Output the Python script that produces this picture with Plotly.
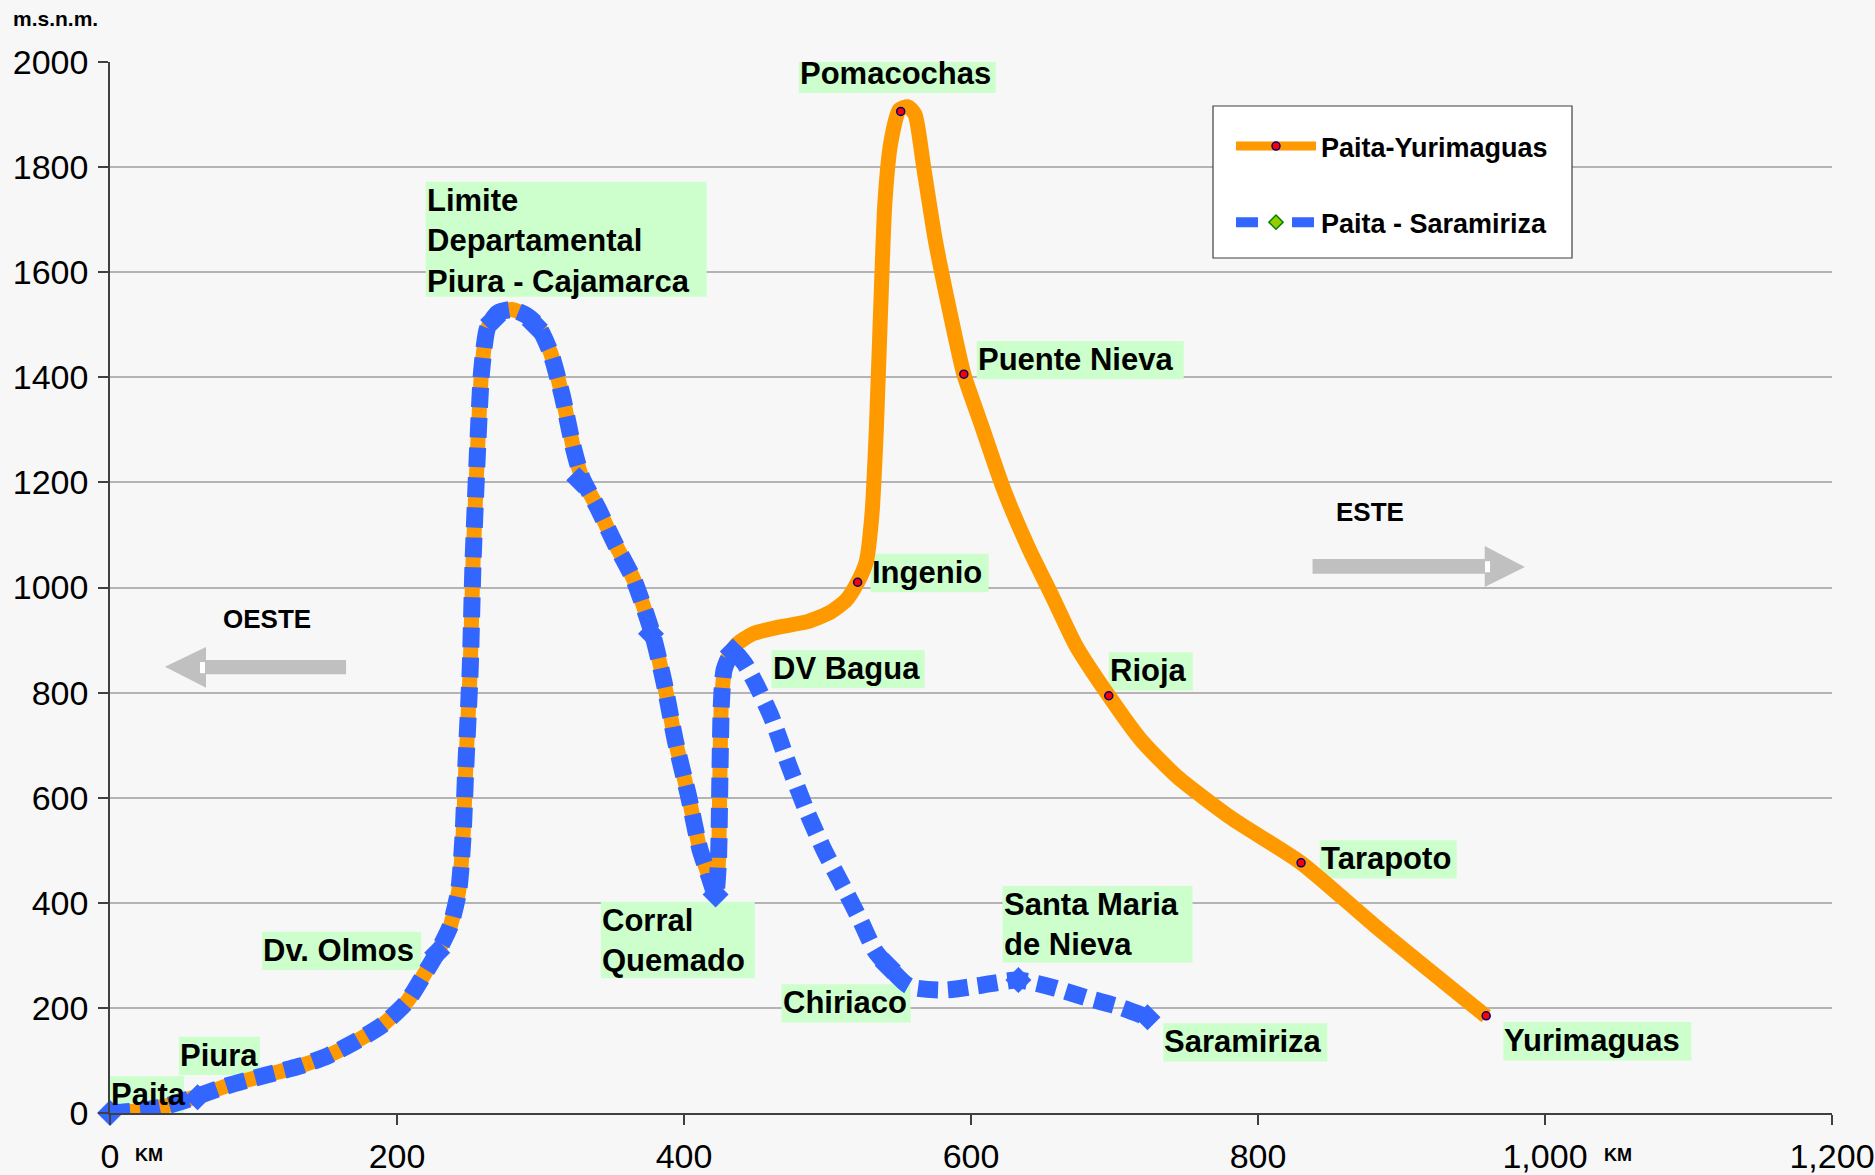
import plotly.graph_objects as go

# ---------------- data ----------------
# Paita - Yurimaguas profile (km, m.s.n.m.)
py_km = [0, 23, 40, 61, 82, 107, 132, 152, 173, 190, 207, 219, 228, 237, 243, 246, 248, 251, 253, 256,
         259, 263, 270, 280, 290, 298, 307, 315, 323, 329, 340, 352, 365, 378, 386, 394, 403, 411, 418,
         422, 424, 425, 426, 429, 436, 448, 465, 486, 502, 513, 521, 527, 531, 534, 537, 540, 544, 550,
         556, 561, 567, 575, 586, 595, 607, 623, 640, 657, 673, 696, 719, 744, 782, 830, 882, 959]
py_m = [0, 5, 14, 32, 52, 71, 89, 109, 139, 168, 212, 264, 305, 355, 423, 526, 662, 844, 1049, 1254,
        1413, 1493, 1522, 1529, 1518, 1499, 1447, 1367, 1265, 1208, 1151, 1083, 1015, 912, 821, 708, 605, 503, 446,
        416, 480, 639, 776, 856, 890, 912, 924, 935, 953, 976, 1010, 1049, 1140, 1299, 1527, 1732, 1845, 1909,
        1915, 1900, 1800, 1663, 1515, 1406, 1311, 1185, 1076, 981, 890, 794, 708, 639, 560, 476, 355, 184]

# Paita - Saramiriza profile
ps_km = [0, 23, 40, 61, 82, 107, 132, 152, 173, 190, 207, 219, 228, 237, 243, 246, 248, 251, 253, 256,
         259, 263, 270, 280, 290, 298, 307, 315, 323, 329, 340, 352, 365, 378, 386, 394, 403, 411, 418,
         422, 424, 425, 426, 428, 434, 442, 450, 461, 473, 486, 498, 511, 523, 533, 542, 557, 582, 607,
         633, 657, 682, 702, 723]
ps_m = [0, 5, 14, 32, 52, 71, 89, 109, 139, 168, 212, 264, 305, 355, 423, 526, 662, 844, 1049, 1254,
        1413, 1493, 1522, 1529, 1518, 1499, 1447, 1367, 1265, 1208, 1151, 1083, 1015, 912, 821, 708, 605, 503, 446,
        416, 480, 639, 776, 844, 878, 856, 817, 753, 662, 571, 498, 430, 366, 309, 280, 241, 234, 243,
        253, 239, 218, 203, 182]

# data points of the Saramiriza series
ps_pts_km = [0, 61, 228, 267, 296, 327, 377, 422, 434, 542, 633, 723]
ps_pts_m = [0, 30, 305, 1509, 1500, 1204, 912, 416, 878, 280, 253, 182]

# data points of the Yurimaguas series (visible part)
py_pts_km = [521, 551, 595, 696, 830, 959]
py_pts_m = [1010, 1906, 1406, 794, 476, 185]

# place labels (top-left corner of each label, km / m)
label_text = ["Paita", "Piura", "Dv. Olmos", "Limite<br>Departamental<br>Piura - Cajamarca",
              "Corral<br>Quemado", "DV Bagua", "Chiriaco", "Ingenio", "Pomacochas", "Puente Nieva",
              "Rioja", "Tarapoto", "Santa Maria<br>de Nieva", "Saramiriza", "Yurimaguas"]
label_km = [0, 48, 106, 220, 342, 461, 468, 530, 480, 604, 696, 843, 622, 734, 971]
label_m = [70, 145, 345, 1772, 402, 881, 245, 1064, 2014, 1469, 877, 519, 432, 171, 173]

x_ticks = [0, 200, 400, 600, 800, 1000, 1200]
x_tick_text = ["0", "200", "400", "600", "800", "1,000", "1,200"]
y_ticks = [0, 200, 400, 600, 800, 1000, 1200, 1400, 1600, 1800, 2000]

series_names = ["Paita-Yurimaguas", "Paita - Saramiriza"]

# ---------------- styles ----------------
FONT = "Liberation Sans, Arial, sans-serif"
ORANGE = "#ff9900"
BLUE = "#3366ff"
BG = "#f7f7f7"
GRAY_ARROW = "#c0c0c0"
LABEL_BG = "#ccffcc"
W, H = 1875, 1175
L, R, T, B = 110, 43, 62, 62
PW, PH = W - L - R, H - T - B
X_RANGE = [0, 1200]
Y_RANGE = [0, 2000]
KM_PER_PX = (X_RANGE[1] - X_RANGE[0]) / PW
M_PER_PX = (Y_RANGE[1] - Y_RANGE[0]) / PH
# label box widths in px and line height in px
label_box_w = [74, 81, 159, 281, 154, 153, 129, 118, 197, 207, 84, 137, 190, 164, 188]
LINE_H = 38.3


def px_x(px):
    return (px - L) / PW


def px_y(py):
    return (H - B - py) / PH


fig = go.Figure()

# orange line
fig.add_trace(go.Scatter(x=py_km, y=py_m, mode="lines", showlegend=False,
                         line=dict(color=ORANGE, width=15, shape="spline", smoothing=0.6),
                         hoverinfo="skip"))
fig.add_trace(go.Scatter(x=py_pts_km, y=py_pts_m, mode="markers", showlegend=False,
                         marker=dict(symbol="circle", size=8, color="#ff0000",
                                     line=dict(color="#000080", width=1.5))))
# blue dotted line
fig.add_trace(go.Scatter(x=ps_km, y=ps_m, mode="lines", showlegend=False,
                         line=dict(color=BLUE, width=17, dash="20px,10px", shape="spline", smoothing=0.6),
                         hoverinfo="skip"))
fig.add_trace(go.Scatter(x=ps_pts_km, y=ps_pts_m, mode="markers", showlegend=False, cliponaxis=False,
                         marker=dict(symbol="diamond", size=20, color=BLUE)))

# legend entries
fig.add_trace(go.Scatter(x=[None], y=[None], mode="lines+markers", name=series_names[0],
                         legendgroup="a",
                         line=dict(color=ORANGE, width=9),
                         marker=dict(symbol="circle", size=8, color="#ff0000",
                                     line=dict(color="#000080", width=1.5))))
fig.add_trace(go.Scatter(x=[None], y=[None], mode="lines+markers", name=series_names[1],
                         legendgroup="b",
                         line=dict(color=BLUE, width=14, dash="22px,34px,22px"),
                         marker=dict(symbol="diamond", size=11, color="#99cc00",
                                     line=dict(color="#008000", width=1.5))))

# legend box
fig.add_shape(type="rect", xref="paper", yref="paper",
              x0=px_x(1213), x1=px_x(1572), y0=px_y(258), y1=px_y(106),
              fillcolor="#ffffff", line=dict(color="#404040", width=1.2), layer="above")

# labels: green box under the lines, text on top
for t, xk, ym, bw in zip(label_text, label_km, label_m, label_box_w):
    n_lines = t.count("<br>") + 1
    fig.add_shape(type="rect", xref="x", yref="y",
                  x0=xk, x1=xk + bw * KM_PER_PX, y0=ym - n_lines * LINE_H * M_PER_PX, y1=ym,
                  fillcolor=LABEL_BG, line=dict(width=0), layer="between")
    fig.add_annotation(x=xk, y=min(ym, Y_RANGE[1]), xref="x", yref="y", text=t, showarrow=False,
                       xanchor="left", yanchor="top", align="left",
                       yshift=max(ym - Y_RANGE[1], 0) / M_PER_PX,
                       borderpad=0,
                       font=dict(family=FONT, size=31, color="#000000", weight="bold"))

# direction arrows
fig.add_shape(type="path", xref="x", yref="y",
              path="M 38.3,849 L 66.9,887 L 66.9,862 L 164.5,862 L 164.5,835 L 66.9,835 L 66.9,809 Z",
              fillcolor=GRAY_ARROW, line=dict(width=0), layer="between")
fig.add_shape(type="rect", xref="x", yref="y", x0=62.7, x1=66.2, y0=837, y1=858,
              fillcolor="#ffffff", line=dict(width=0), layer="between")
fig.add_shape(type="path", xref="x", yref="y",
              path="M 986,1039 L 958,1079 L 958,1054 L 838,1054 L 838,1026 L 958,1026 L 958,1001 Z",
              fillcolor=GRAY_ARROW, line=dict(width=0), layer="between")
fig.add_shape(type="rect", xref="x", yref="y", x0=958.2, x1=961.7, y0=1029, y1=1050,
              fillcolor="#ffffff", line=dict(width=0), layer="between")
fig.add_annotation(x=109.4, y=940, xref="x", yref="y", text="OESTE", showarrow=False,
                   font=dict(family=FONT, size=26, color="#000000", weight="bold"))
fig.add_annotation(x=878, y=1144, xref="x", yref="y", text="ESTE", showarrow=False,
                   font=dict(family=FONT, size=26, color="#000000", weight="bold"))

# axis unit texts
fig.add_annotation(x=px_x(55), y=px_y(19), xref="paper", yref="paper", text="m.s.n.m.",
                   showarrow=False, xanchor="center", yanchor="middle",
                   font=dict(family=FONT, size=21, color="#000000", weight="bold"))
for kx in (149, 1618):
    fig.add_annotation(xref="paper", yref="paper", x=px_x(kx), y=px_y(1155),
                       text="KM", showarrow=False, xanchor="center", yanchor="middle",
                       font=dict(family=FONT, size=18, color="#000000", weight="bold"))

fig.update_layout(
    width=W, height=H,
    margin=dict(l=L, r=R, t=T, b=B, autoexpand=False),
    paper_bgcolor=BG, plot_bgcolor=BG,
    font=dict(family=FONT, color="#000000"),
    showlegend=True,
    legend=dict(x=px_x(1231), y=px_y(122), xanchor="left", yanchor="top",
                bgcolor="rgba(0,0,0,0)", borderwidth=0,
                font=dict(family=FONT, size=27, color="#000000", weight="bold"),
                traceorder="grouped", tracegroupgap=38, itemwidth=80),
    xaxis=dict(range=X_RANGE, tickvals=x_ticks, ticktext=x_tick_text, automargin=False,
               showgrid=False, zeroline=False, showline=True, linecolor="#404040", linewidth=1.5,
               ticks="outside", ticklen=10, tickcolor="#404040", tickwidth=1.5,
               tickfont=dict(family=FONT, size=34, color="#000000"), ticklabelstandoff=2),
    yaxis=dict(range=Y_RANGE, tickvals=y_ticks, automargin=False,
               showgrid=True, gridcolor="#b4b4b4", gridwidth=1.5, zeroline=False,
               showline=True, linecolor="#404040", linewidth=1.5,
               ticks="outside", ticklen=10, tickcolor="#404040", tickwidth=1.5,
               tickfont=dict(family=FONT, size=34, color="#000000"), ticklabelstandoff=3),
)

fig.write_html("out.html", config={"displayModeBar": False},
               post_script="document.body.style.margin='0';document.body.style.background='#f7f7f7';")
